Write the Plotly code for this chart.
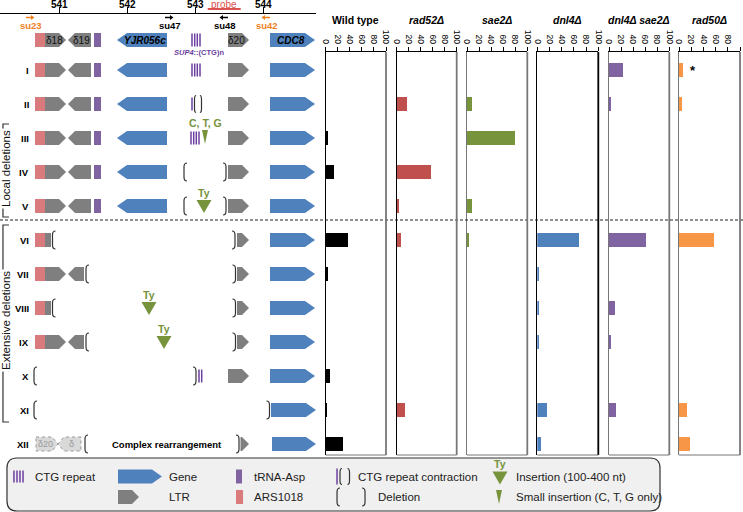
import plotly.graph_objects as go

W, H = 743, 512

# ---- data ----
rows = ["I", "II", "III", "IV", "V", "VI", "VII", "VIII", "IX", "X", "XI", "XII"]
strains = ["<b>Wild type</b>", "<b><i>rad52Δ</i></b>", "<b><i>sae2Δ</i></b>",
           "<b><i>dnl4Δ</i></b>", "<b><i>dnl4Δ sae2Δ</i></b>", "<b><i>rad50Δ</i></b>"]
wild_type = [0, 0, 2.5, 14, 0, 36, 2.5, 0, 0, 7, 0.8, 29]
rad52 = [0, 17, 0, 57, 3, 6, 0, 0, 0, 0, 13, 0]
sae2 = [0, 8, 80, 0, 8, 2, 0, 0, 0, 0, 0, 0]
dnl4 = [0, 0, 0, 0, 0, 69, 4, 2, 2, 0, 17, 7]
dnl4_sae2 = [24, 3, 0, 0, 0, 61, 0, 10, 3, 0, 12, 0]
rad50 = [6.5, 5, 0, 0, 0, 57, 0, 0, 0, 0, 12.5, 18.5]
series = [wild_type, rad52, sae2, dnl4, dnl4_sae2, rad50]
pct_ticks = [0, 20, 40, 60, 80, 100]
coord_ticks = [541, 542, 543, 544]

colors = ["#000000", "#c0504d", "#77933c", "#4f81bd", "#8064a2", "#f79646"]
left_line = ["#000", "#000", "#777", "#000", "#777", "#777"]
right_line = ["#777", "#777", "#777", "#000", "#777", "#777"]
panel_px = [(325.7, 386), (396.7, 456.7), (467, 527.3), (537.3, 598.3), (609, 669.3), (679, 740)]

GENE = "#4f81bd"
LTR = "#7f7f7f"
TRNA = "#8064a2"
ARS = "#d97b7d"
CTG = "#6b3fa0"
GREEN = "#77933c"
FONT = "Liberation Sans, Arial, sans-serif"


def px(x):
    return x / W


def py(y):
    return 1 - y / H


def kb(x):
    return 541 + (x - 59.3) / 68.23


def rw(y):
    return 1 + (y - 70) / 34


def mapper(ref):
    if ref == "S":
        return (lambda x, y: (kb(x), rw(y))), "x7", "y7"
    return (lambda x, y: (px(x), py(y))), "paper", "paper"


shapes = []
annotations = []


def poly(pts, ref, fill, line="rgba(0,0,0,0)", width=0, dash=None, closed=True):
    f, xr, yr = mapper(ref)
    d = "M " + " L ".join("%.4f,%.4f" % f(x, y) for x, y in pts)
    if closed:
        d += " Z"
    shapes.append(dict(type="path", path=d, xref=xr, yref=yr, layer="above",
                       fillcolor=fill if fill else "rgba(0,0,0,0)",
                       line=dict(color=line, width=width, dash=dash)))


def bracket(x, y, ref, left=True, h=9, w=3):
    f, xr, yr = mapper(ref)
    s = 1 if left else -1
    p = [f(x + s * w, y - h), f(x, y - h), f(x, y - h + 4), f(x, y + h - 4), f(x, y + h), f(x + s * w, y + h)]
    d = "M %.4f,%.4f Q %.4f,%.4f %.4f,%.4f L %.4f,%.4f Q %.4f,%.4f %.4f,%.4f" % (
        p[0] + p[1] + p[2] + p[3] + p[4] + p[5])
    shapes.append(dict(type="path", path=d, xref=xr, yref=yr, layer="above",
                       line=dict(color="#333", width=1.2)))


def pent(x0, x1, y, ref, color, right=True, tip=7, hh=7, line="rgba(0,0,0,0)", width=0, dash=None):
    if right:
        pts = [(x0, y - hh), (x1 - tip, y - hh), (x1, y), (x1 - tip, y + hh), (x0, y + hh)]
    else:
        pts = [(x1, y - hh), (x0 + tip, y - hh), (x0, y), (x0 + tip, y + hh), (x1, y + hh)]
    poly(pts, ref, color, line, width, dash)


def rect(x0, x1, y, ref, color, hh=7):
    poly([(x0, y - hh), (x1, y - hh), (x1, y + hh), (x0, y + hh)], ref, color)


def vline(x, y0, y1, ref, color, width=1.5, dash=None):
    poly([(x, y0), (x, y1)], ref, None, color, width, dash, closed=False)


def tri(xc, y, ref, wide=True, label=None):
    if wide:
        poly([(xc - 7.5, y - 6), (xc + 7.5, y - 6), (xc, y + 7)], ref, GREEN)
        if label:
            text(xc, y - 13.5, "<b>%s</b>" % label, ref, 10.5, GREEN)
    else:
        poly([(xc - 3, y - 8), (xc + 3, y - 8), (xc, y + 6)], ref, GREEN)
        if label:
            text(xc, y - 15, "<b>%s</b>" % label, ref, 10.5, GREEN)


def text(x, y, s, ref, size, color="#000", xanchor="center", **kw):
    f, xr, yr = mapper(ref)
    a, b = f(x, y)
    annotations.append(dict(x=a, y=b, xref=xr, yref=yr, text=s, showarrow=False,
                            xanchor=xanchor, yanchor="middle",
                            font=dict(size=size, color=color, family=FONT), **kw))


# ---- schematic rows (x positions in drawing px) ----
base = [("ars", 35, 45), ("ltr_r", 45, 66), ("ltr_l", 68, 91), ("trna", 94, 101), ("gene_l", 117, 167)]
right = [("ltr_r", 228, 249), ("gene_r", 270, 315)]
tail = [("ltr_r", 237, 249), ("gene_r", 270, 315)]
ctg4 = ("ctg", [192, 194.7, 197.3, 200])

schematic = [
    base + [ctg4] + right,
    base + [ctg4] + right,
    base + [("ctg", [192]), ("lb_s", 194.5), ("rb_s", 201.5)] + right,
    base + [("ctg", [191, 193.7, 196.3, 199]), ("ins_s", 205, "C, T, G")] + right,
    base + [("lb", 184), ("rb", 226)] + right,
    base + [("lb", 184), ("ty", 204, "Ty"), ("rb", 226)] + right,
    [("ars", 35, 45), ("stub", 45, 51), ("lb", 52.5), ("rb", 235)] + tail,
    [("ars", 35, 45), ("ltr_r", 45, 66), ("ltr_l", 68, 84), ("lb", 86), ("rb", 235.5)] + tail,
    [("ars", 35, 45), ("stub", 45, 51), ("lb", 52.5), ("ty", 149, "Ty"), ("rb", 235.5)] + tail,
    [("ars", 35, 45), ("ltr_r", 45, 66), ("ltr_l", 68, 84), ("lb", 86), ("ty", 164, "Ty"), ("rb", 235.5)] + tail,
    [("lb", 34), ("rb", 196), ("ctg", [199, 201.7]), ("ltr_r", 228, 249), ("gene_r", 270, 315)],
    [("lb", 34), ("rb", 269.5), ("gene_r", 271, 316)],
    [("dash_r", 36, 58), ("dash_l", 58, 81), ("lb", 85), ("txt", 167, "<b>Complex rearrangement</b>"),
     ("rb", 239), ("ltr_r", 240.5, 249), ("gene_r", 272, 316)],
]


def draw_item(it, y, ref):
    k = it[0]
    if k == "ars":
        rect(it[1], it[2], y, ref, ARS)
    elif k == "stub":
        rect(it[1], it[2], y, ref, LTR)
    elif k == "trna":
        rect(it[1], it[2], y, ref, TRNA)
    elif k == "ltr_r":
        pent(it[1], it[2], y, ref, LTR, True, 7)
    elif k == "ltr_l":
        pent(it[1], it[2], y, ref, LTR, False, 7)
    elif k == "gene_r":
        pent(it[1], it[2], y, ref, GENE, True, 10)
    elif k == "gene_l":
        pent(it[1], it[2], y, ref, GENE, False, 10)
    elif k == "ctg":
        for x in it[1]:
            vline(x, y - 6.5, y + 6.5, ref, CTG)
    elif k == "lb":
        bracket(it[1], y, ref, True)
    elif k == "rb":
        bracket(it[1], y, ref, False)
    elif k == "lb_s":
        bracket(it[1], y, ref, True, 8.5, 1.6)
    elif k == "rb_s":
        bracket(it[1], y, ref, False, 8.5, 1.6)
    elif k == "ty":
        tri(it[1], y, ref, True, it[2])
    elif k == "ins_s":
        tri(it[1], y, ref, False, it[2])
    elif k == "dash_r":
        pent(it[1], it[2], y, ref, "#d9d9d9", True, 6, line="#999", width=1, dash="dot")
    elif k == "dash_l":
        pent(it[1], it[2], y, ref, "#d9d9d9", False, 6, line="#999", width=1, dash="dot")
    elif k == "txt":
        text(it[1], y, it[2], ref, 9.5)


for i, items in enumerate(schematic):
    y = 40 if i == 0 else 70 + (i - 1) * 34
    for it in items:
        draw_item(it, y, "S")
    if i > 0:
        text(31, y, "<b>%s</b>" % rows[i - 1], "S", 9.5, xanchor="right")

# reference row labels
text(54, 40, "δ18", "S", 10, "#111")
text(81, 40, "δ19", "S", 10, "#111")
text(145, 40, "<b><i>YJR056c</i></b>", "S", 10)
text(236.5, 40, "δ20", "S", 10, "#111")
text(291, 40, "<b><i>CDC8</i></b>", "S", 10)
text(198.7, 52, "<b><i>SUP4</i>::(CTG)n</b>", "S", 7.5, CTG)
text(45.8, 444, "δ20", "S", 9, "#999")
text(71.5, 444, "δ", "S", 9, "#999")

# coordinate tick labels (drawn at the top edge, above the ticks)
for t in coord_ticks:
    annotations.append(dict(x=t, y=rw(4.5), xref="x7", yref="y7", text="<b>%d</b>" % t,
                            showarrow=False, xanchor="center", yanchor="middle",
                            font=dict(size=10, family=FONT, color="#000")))

# probe and primers
poly([(207.7, 9), (240.7, 9)], "S", None, "#d9534f", 2, closed=False)
text(224, 4.5, "probe", "S", 10, "#d9534f")
for xc, lab, col, to_right in [(30, "su23", "#f07f1e", True), (169, "su47", "#000", True),
                               (224, "su48", "#000", False), (266, "su42", "#f07f1e", False)]:
    s = 1 if to_right else -1
    poly([(xc - 4 * s, 17.5), (xc + 1 * s, 17.5)], "S", None, col, 1.5, closed=False)
    poly([(xc + 1 * s, 15), (xc + 4.5 * s, 17.5), (xc + 1 * s, 20)], "S", col)
    text(xc + 1, 25, "<b>%s</b>" % lab, "S", 9.5, col)

# side brackets
for y0, y1, lab, yc in [(124, 217, "Local deletions", 169), (225, 422, "Extensive deletions", 321)]:
    poly([(9, y0), (3, y0), (3, y1), (9, y1)], "P", None, "#333", 1.2, closed=False)
    text(6, yc, lab, "P", 11.5, "#111", textangle=-90, bgcolor="white")

# dashed separator
poly([(0, 220), (W, 220)], "P", None, "#222", 1, dash="3px,2px", closed=False)

# ---- legend box ----
x0, x1, y0, y1, r = 7, 660, 458, 511, 10
f = lambda x, y: (px(x), py(y))
d = ("M %.4f,%.4f L %.4f,%.4f Q %.4f,%.4f %.4f,%.4f L %.4f,%.4f Q %.4f,%.4f %.4f,%.4f "
     "L %.4f,%.4f Q %.4f,%.4f %.4f,%.4f L %.4f,%.4f Q %.4f,%.4f %.4f,%.4f Z") % (
    f(x0 + r, y0) + f(x1 - r, y0) + f(x1, y0) + f(x1, y0 + r) + f(x1, y1 - r) + f(x1, y1) + f(x1 - r, y1)
    + f(x0 + r, y1) + f(x0, y1) + f(x0, y1 - r) + f(x0, y0 + r) + f(x0, y0) + f(x0 + r, y0))
shapes.insert(0, dict(type="path", path=d, xref="paper", yref="paper", layer="below",
                      fillcolor="#f0f0f0", line=dict(color="#333", width=1.2)))

r1, r2 = 476.5, 497
for x in [14, 17, 20, 23]:
    vline(x, r1 - 6, r1 + 6, "P", CTG)
text(33, r1, "CTG repeat", "P", 11.5, "#222", "left")
pent(118, 162, r1, "P", GENE, True, 10)
text(167, r1, "Gene", "P", 11.5, "#222", "left")
rect(236, 242, r1, "P", TRNA)
text(252, r1, "tRNA-Asp", "P", 11.5, "#222", "left")
vline(337, r1 - 8, r1 + 8, "P", CTG)
bracket(340, r1, "P", True, 8, 2)
bracket(349.5, r1, "P", False, 8, 2)
text(356, r1, "CTG repeat contraction", "P", 11.5, "#222", "left")
tri(500, r1 + 1, "P", True, "Ty")
text(514, r1, "Insertion (100-400 nt)", "P", 11.5, "#222", "left")
pent(118, 139, r2, "P", LTR, True, 7)
text(167, r2, "LTR", "P", 11.5, "#222", "left")
rect(236, 243, r2, "P", ARS)
text(252, r2, "ARS1018", "P", 11.5, "#222", "left")
bracket(337, r2, "P", True, 9, 3)
bracket(365, r2, "P", False, 9, 3)
text(376, r2, "Deletion", "P", 11.5, "#222", "left")
tri(499, r2 + 1, "P", False)
text(514, r2, "Small insertion (C, T, G only)", "P", 11.5, "#222", "left")

# ---- figure ----
fig = go.Figure()
row_idx = list(range(1, len(rows) + 1))
layout = {}
ydom = [py(455), py(52)]
yrng = [rw(455), rw(52)]
for i, (vals, col) in enumerate(zip(series, colors)):
    n = "" if i == 0 else str(i + 1)
    fig.add_trace(go.Bar(x=vals, y=row_idx, orientation="h", width=0.41,
                         marker=dict(color=col, line=dict(width=0)),
                         xaxis="x" + n, yaxis="y" + n, hoverinfo="x"))
    a, b = panel_px[i]
    layout["xaxis" + n] = dict(domain=[px(a), px(b)], range=[0, 100], side="top", anchor="y" + n,
                               tickvals=pct_ticks, tickangle=90, ticks="outside", ticklen=4,
                               tickcolor="#000", showline=True, linecolor="#000", linewidth=1.2,
                               showgrid=False, zeroline=False, automargin=False,
                               tickfont=dict(size=8.5, family=FONT, color="#000"))
    layout["yaxis" + n] = dict(domain=ydom, range=yrng, anchor="x" + n, showticklabels=False,
                               showline=True, linecolor=left_line[i], linewidth=1.2,
                               showgrid=False, zeroline=False, ticks="", automargin=False)
    shapes.append(dict(type="line", xref="x%s domain" % n, yref="y%s domain" % n,
                       x0=1, x1=1, y0=0, y1=1, line=dict(color=right_line[i], width=1.8)))
    shapes.append(dict(type="line", xref="x%s domain" % n, yref="y%s domain" % n,
                       x0=0, x1=1, y0=0, y1=0, line=dict(color="#777", width=1.2)))
    annotations.append(dict(x=(px(a) + px(b)) / 2, y=py(20), xref="paper", yref="paper",
                            text=strains[i], showarrow=False, xanchor="center", yanchor="middle",
                            font=dict(size=10.5, family=FONT, color="#000")))

annotations.append(dict(x=14, y=1, xref="x6", yref="y6", text="<b>*</b>", showarrow=False,
                        xanchor="left", font=dict(size=13, family=FONT, color="#000")))

fig.add_trace(go.Scatter(x=[541], y=[1], mode="markers", marker=dict(opacity=0),
                         xaxis="x7", yaxis="y7", hoverinfo="skip"))
layout["xaxis7"] = dict(domain=[0, px(316)], range=[kb(0), kb(316)], anchor="free",
                        position=py(13), side="top", tickvals=coord_ticks, ticks="outside",
                        ticklen=6, tickcolor="#000", showline=True, linecolor="#000",
                        linewidth=1.2, showgrid=False, zeroline=False, automargin=False,
                        showticklabels=False)
layout["yaxis7"] = dict(domain=[py(455), 1], range=[rw(455), rw(0)], anchor="x7",
                        visible=False, showgrid=False, zeroline=False, automargin=False)

fig.update_layout(**layout)
fig.update_layout(width=W, height=H, margin=dict(l=0, r=0, t=0, b=0, autoexpand=False),
                  paper_bgcolor="white", plot_bgcolor="white", showlegend=False,
                  bargap=0, shapes=shapes, annotations=annotations,
                  font=dict(family=FONT))
# drop the browser's default page margin so the figure sits at the window origin
fig.write_html("out.html", config={"displayModeBar": False},
               post_script="document.body.style.margin='0';")
